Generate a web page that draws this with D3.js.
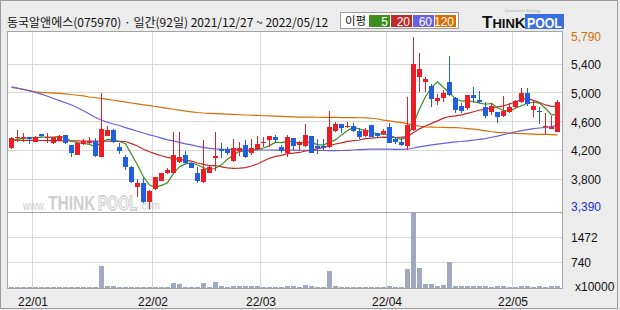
<!DOCTYPE html>
<html>
<head>
<meta charset="utf-8">
<script src="https://cdn.jsdelivr.net/npm/d3@7"></script>
<style>
  body { margin: 0; background: #ececec; }
  text { font-family: "Liberation Sans", Arial, sans-serif; }
  .kr { font-family: "Noto Sans CJK KR", "Noto Sans", sans-serif; }
</style>
</head>
<body>
<svg id="chart" width="620" height="310"></svg>
<script>
// daily candles, 2021/12/27 ~ 2022/05/12 (92 trading days)
const open = [
  4237, 4376, 4385, 4390, 4329, 4436, 4390, 4306, 4343, 4422,
  4283, 4144, 4297, 4306, 4339, 4112, 4413, 4491, 4251, 4112,
  3973, 3704, 3751, 3496, 3667, 3783, 3890, 3890, 4052, 4140,
  4028, 3899, 3769, 3899, 4107, 4223, 4223, 4066, 4200, 4279,
  4177, 4228, 4316, 4353, 4390, 4251, 4177, 4376, 4283, 4274,
  4408, 4269, 4269, 4260, 4482, 4575, 4538, 4547, 4482, 4413,
  4561, 4445, 4436, 4538, 4366, 4329, 4274, 4492, 5233, 5159,
  5103, 4900, 4932, 5159, 4932, 4825, 4793, 4978, 4909, 4807,
  4747, 4747, 4687, 4747, 4807, 4886, 5011, 4770, 4761, 4548,
  4511, 4469];
const high = [
  4399, 4491, 4445, 4390, 4410, 4440, 4445, 4400, 4420, 4425,
  4290, 4310, 4362, 4390, 4376, 5000, 4547, 4505, 4306, 4144,
  3991, 3816, 3820, 3658, 3840, 3900, 3960, 4459, 4459, 4205,
  4030, 3973, 4352, 3990, 4459, 4306, 4260, 4362, 4325, 4352,
  4366, 4408, 4390, 4408, 4422, 4283, 4422, 4376, 4343, 4575,
  4408, 4362, 4362, 4755, 4607, 4575, 4607, 4584, 4515, 4515,
  4561, 4454, 4501, 4593, 4390, 4399, 4954, 5790, 5557, 5224,
  5131, 4992, 5048, 5525, 4946, 4872, 4978, 5094, 5038, 4886,
  4862, 4747, 4964, 4862, 4909, 5071, 5071, 4900, 4807, 4724,
  4687, 4909];
const low = [
  4223, 4329, 4329, 4297, 4320, 4400, 4306, 4300, 4335, 4300,
  4112, 4140, 4283, 4297, 4112, 4112, 4413, 4306, 4158, 3936,
  3751, 3556, 3482, 3390, 3660, 3780, 3885, 3880, 4038, 4020,
  3960, 3751, 3751, 3890, 3927, 4098, 4144, 4052, 4130, 4098,
  4144, 4214, 4260, 4260, 4320, 4177, 4112, 4214, 4204, 4251,
  4168, 4158, 4204, 4246, 4468, 4445, 4515, 4468, 4362, 4399,
  4390, 4376, 4422, 4306, 4297, 4269, 4214, 4480, 5025, 5025,
  4816, 4839, 4886, 4964, 4733, 4733, 4770, 4872, 4872, 4654,
  4700, 4594, 4668, 4733, 4793, 4872, 4826, 4668, 4575, 4423,
  4501, 4460];
const close = [
  4376, 4399, 4395, 4362, 4399, 4413, 4399, 4390, 4408, 4306,
  4177, 4306, 4339, 4339, 4130, 4505, 4491, 4329, 4204, 3982,
  3765, 3751, 3496, 3644, 3834, 3890, 3936, 4140, 4112, 4028,
  3968, 3783, 3950, 3973, 4130, 4204, 4177, 4237, 4241, 4112,
  4237, 4293, 4325, 4408, 4353, 4200, 4390, 4269, 4325, 4422,
  4177, 4246, 4246, 4529, 4575, 4524, 4547, 4482, 4399, 4491,
  4399, 4408, 4482, 4316, 4325, 4283, 4561, 5409, 5339, 5200,
  4918, 4941, 5011, 4978, 4770, 4761, 4978, 4941, 4881, 4687,
  4826, 4677, 4761, 4807, 4900, 5001, 4853, 4826, 4742, 4548,
  4538, 4886];
// volume, x10000 shares
const volume = [
  30, 32, 30, 34, 30, 30, 32, 30, 30, 34,
  36, 32, 30, 34, 36, 634, 45, 45, 40, 34,
  38, 34, 32, 34, 32, 34, 36, 153, 110, 34,
  34, 34, 153, 32, 190, 66, 34, 66, 66, 66,
  66, 45, 32, 32, 32, 32, 66, 45, 34, 88,
  45, 34, 34, 503, 45, 32, 34, 32, 32, 34,
  32, 32, 34, 45, 32, 32, 547, 2208, 590, 110,
  110, 73, 88, 772, 66, 45, 66, 66, 45, 45,
  32, 45, 66, 32, 30, 66, 45, 32, 45, 32,
  45, 45];
// moving averages as drawn
const ma5 = [
  4350, 4365, 4375, 4385, 4386, 4394, 4394, 4393, 4402, 4383,
  4336, 4317, 4307, 4293, 4258, 4324, 4361, 4359, 4332, 4302,
  4154, 4006, 3840, 3728, 3698, 3723, 3760, 3889, 3982, 4021,
  4037, 4006, 3968, 3940, 3961, 4008, 4087, 4144, 4198, 4194,
  4201, 4224, 4242, 4275, 4323, 4316, 4335, 4324, 4307, 4321,
  4317, 4288, 4283, 4324, 4355, 4424, 4484, 4531, 4505, 4489,
  4464, 4436, 4436, 4419, 4386, 4363, 4393, 4579, 4783, 4958,
  5085, 5161, 5082, 5010, 4924, 4892, 4900, 4886, 4866, 4850,
  4863, 4802, 4766, 4752, 4794, 4829, 4864, 4877, 4864, 4794,
  4701, 4708];
const ma20 = [
  4350, 4350, 4349, 4348, 4347, 4346, 4345, 4344, 4343, 4342,
  4341, 4340, 4339, 4338, 4337, 4336, 4336, 4335, 4334, 4332,
  4302, 4270, 4225, 4189, 4160, 4134, 4111, 4099, 4084, 4070,
  4059, 4033, 4014, 3996, 3996, 3981, 3965, 3960, 3962, 3969,
  3992, 4019, 4061, 4099, 4125, 4140, 4163, 4170, 4180, 4200,
  4210, 4233, 4248, 4276, 4298, 4314, 4333, 4345, 4353, 4372,
  4380, 4386, 4394, 4389, 4388, 4392, 4400, 4457, 4508, 4547,
  4584, 4619, 4657, 4679, 4689, 4701, 4723, 4746, 4770, 4779,
  4801, 4814, 4828, 4853, 4881, 4917, 4932, 4903, 4873, 4840,
  4821, 4819];
const ma60 = [
  5090, 5075, 5055, 5035, 5015, 4990, 4960, 4930, 4900, 4870,
  4840, 4800, 4760, 4715, 4665, 4630, 4600, 4575, 4555, 4525,
  4500, 4475, 4450, 4425, 4405, 4380, 4355, 4340, 4320, 4300,
  4285, 4265, 4250, 4238, 4230, 4225, 4222, 4220, 4218, 4216,
  4215, 4215, 4214, 4214, 4213, 4213, 4212, 4212, 4211, 4210,
  4209, 4208, 4207, 4206, 4206, 4207, 4210, 4214, 4219, 4224,
  4225, 4225, 4226, 4226, 4224, 4222, 4225, 4242, 4257, 4272,
  4285, 4295, 4306, 4317, 4328, 4332, 4340, 4350, 4362, 4373,
  4391, 4406, 4427, 4447, 4465, 4483, 4498, 4510, 4520, 4529,
  4539, 4557];
const ma120 = [
  5085, 5070, 5055, 5040, 5022, 5015, 5010, 5005, 5000, 4994,
  4985, 4975, 4965, 4950, 4940, 4930, 4918, 4905, 4893, 4880,
  4867, 4855, 4842, 4830, 4818, 4805, 4793, 4780, 4768, 4755,
  4745, 4735, 4728, 4724, 4720, 4716, 4712, 4708, 4704, 4700,
  4697, 4694, 4690, 4687, 4684, 4680, 4677, 4674, 4672, 4671,
  4670, 4669, 4668, 4667, 4666, 4665, 4665, 4664, 4662, 4660,
  4655, 4645, 4630, 4620, 4605, 4595, 4580, 4560, 4545, 4535,
  4532, 4530, 4528, 4526, 4524, 4520, 4512, 4503, 4493, 4480,
  4468, 4460, 4455, 4450, 4445, 4442, 4438, 4435, 4432, 4430,
  4427, 4425];

const maSeries = [ma5, ma20, ma60, ma120];
const maLabels = ['5', '20', '60', '120'];
const maColors = ['#3e8e1e', '#c22a2a', '#6a5fe0', '#dc6e00'];

const priceTicks = [5400, 5000, 4600, 4200, 3800];
const volTicks = [736, 1472];
const volTickLabels = ['740', '1472'];
const monthIdx = [4, 24, 42, 63, 84];
const monthLabels = ['22/01', '22/02', '22/03', '22/04', '22/05'];
const priceMax = 5790, priceMin = 3390;
const title = '동국알앤에스(075970) · 일간(92일) 2021/12/27 ~ 2022/05/12';

const UP = '#ee1c24', DOWN = '#1f5fe0', VOL = '#a0a8c2', GRID = '#d9d9d9', FRAME = '#a4a4a4';
const pLeft = 7, pRight = 562, pTop = 31, pMid = 212, pBottom = 288;

const svg = d3.select('#chart');

svg.append('rect').attr('width', 620).attr('height', 310).attr('fill', '#ececec');
svg.append('rect')
  .attr('x', 0.5).attr('y', 0.5).attr('width', 617).attr('height', 308)
  .attr('fill', 'none').attr('stroke', '#9c9c9c');

// scales
const xBand = d3.scaleBand()
  .domain(d3.range(close.length))
  .range([8.5, 560.5])
  .paddingInner(1 / 6)
  .paddingOuter(1 / 12);
const xEdge = d3.scaleLinear().domain([0, close.length]).range([8.5, 560.5]);
const xMid = (i) => xBand(i) + xBand.bandwidth() / 2;
const y = d3.scaleLinear().domain([3353, 5867]).range([pMid, pTop]);
const yv = d3.scaleLinear().domain([0, 2208]).range([pBottom, pMid + 1]);
const snap = (v) => Math.round(v) - 0.5;

// panels
svg.append('rect')
  .attr('x', pLeft).attr('y', pTop)
  .attr('width', pRight - pLeft).attr('height', pBottom - pTop)
  .attr('fill', '#fff');

const grid = svg.append('g').attr('stroke', GRID).attr('shape-rendering', 'crispEdges');
grid.selectAll('.hp').data(priceTicks).enter().append('line')
  .attr('x1', pLeft).attr('x2', pRight)
  .attr('y1', (d) => snap(y(d))).attr('y2', (d) => snap(y(d)));
grid.selectAll('.hv').data(volTicks).enter().append('line')
  .attr('x1', pLeft).attr('x2', pRight)
  .attr('y1', (d) => snap(yv(d))).attr('y2', (d) => snap(yv(d)));
grid.selectAll('.v').data(monthIdx).enter().append('line')
  .attr('x1', (d) => xEdge(d)).attr('x2', (d) => xEdge(d))
  .attr('y1', pTop).attr('y2', pBottom);

// watermark (squeezed horizontally like the site's logo type)
const wm = svg.append('g').attr('fill', '#c4c4c4').attr('opacity', 0.8);
wm.append('text').attr('transform', 'translate(23,209.5) scale(0.8,1)').attr('font-size', 12).text('www.');
wm.append('text').attr('transform', 'translate(48,209.5) scale(0.78,1)')
  .attr('font-size', 20).attr('font-weight', 'bold').text('THINK');
wm.append('text').attr('transform', 'translate(98,209.5) scale(0.7,1)')
  .attr('font-size', 20).attr('font-weight', 'bold')
  .attr('fill', '#fff').attr('stroke', '#c4c4c4').attr('stroke-width', 1.3).text('POOL');
wm.append('text').attr('transform', 'translate(139,209.5) scale(0.8,1)').attr('font-size', 12).text('.com');

// moving averages
const line = d3.line().x((d, i) => xMid(i)).y((d) => y(d));
svg.append('g').selectAll('path').data(maSeries.slice().reverse()).enter().append('path')
  .attr('d', line)
  .attr('fill', 'none')
  .attr('stroke', (d, i) => maColors[maColors.length - 1 - i])
  .attr('stroke-width', 1.2);

// candles
const candles = svg.append('g').attr('shape-rendering', 'crispEdges');
const days = d3.range(close.length);
const col = (i) => (close[i] >= open[i] ? UP : DOWN);
candles.selectAll('line').data(days).enter().append('line')
  .attr('x1', xMid).attr('x2', xMid)
  .attr('y1', (i) => y(high[i])).attr('y2', (i) => y(low[i]))
  .attr('stroke', col);
candles.selectAll('rect').data(days).enter().append('rect')
  .attr('x', (i) => xBand(i))
  .attr('width', xBand.bandwidth())
  .attr('y', (i) => y(Math.max(open[i], close[i])))
  .attr('height', (i) => Math.max(1, Math.abs(y(open[i]) - y(close[i]))))
  .attr('fill', col);

// volume
svg.append('g').attr('shape-rendering', 'crispEdges')
  .selectAll('rect').data(volume).enter().append('rect')
  .attr('x', (d, i) => xBand(i))
  .attr('width', xBand.bandwidth())
  .attr('y', (d) => yv(d))
  .attr('height', (d) => pBottom - yv(d))
  .attr('fill', VOL);

// frame
const frame = svg.append('g').attr('stroke', FRAME).attr('fill', 'none').attr('shape-rendering', 'crispEdges');
frame.append('rect').attr('x', pLeft + 0.5).attr('y', pTop + 0.5)
  .attr('width', pRight - pLeft).attr('height', pBottom - pTop);
frame.append('line').attr('x1', pLeft).attr('x2', pRight + 1).attr('y1', pMid + 0.5).attr('y2', pMid + 0.5);

// right price axis
const yAxis = d3.axisRight(y).tickValues(priceTicks).tickFormat(d3.format(',')).tickSize(0).tickPadding(9);
svg.append('g').attr('transform', `translate(${pRight},0)`).call(yAxis)
  .call((g) => g.select('.domain').remove())
  .call((g) => g.selectAll('text').attr('font-size', 12).attr('fill', '#111')
    .attr('font-family', '"Liberation Sans", Arial, sans-serif'));
svg.append('text').attr('x', 571).attr('y', y(priceMax)).attr('dy', '0.36em')
  .attr('font-size', 12).attr('fill', '#d4700a').text(d3.format(',')(priceMax));
svg.append('text').attr('x', 571).attr('y', Math.min(y(priceMin), 207)).attr('dy', '0.36em')
  .attr('font-size', 12).attr('fill', '#1c2fd6').text(d3.format(',')(priceMin));

// right volume axis
const vAxis = d3.axisRight(yv).tickValues(volTicks).tickFormat((d, i) => volTickLabels[i]).tickSize(0).tickPadding(9);
svg.append('g').attr('transform', `translate(${pRight},0)`).call(vAxis)
  .call((g) => g.select('.domain').remove())
  .call((g) => g.selectAll('text').attr('font-size', 12).attr('fill', '#111')
    .attr('font-family', '"Liberation Sans", Arial, sans-serif'));
svg.append('text').attr('x', 575).attr('y', 291).attr('font-size', 12).attr('fill', '#111').text('x10000');

// bottom month axis
const xAxis = d3.axisBottom(xEdge).tickValues(monthIdx).tickFormat((d, i) => monthLabels[i]).tickSize(0).tickPadding(9);
svg.append('g').attr('transform', `translate(0,${pBottom})`).call(xAxis)
  .call((g) => g.select('.domain').remove())
  .call((g) => g.selectAll('text').attr('font-size', 12).attr('fill', '#111')
    .attr('font-family', '"Liberation Sans", Arial, sans-serif'));

// title
svg.append('text').attr('class', 'kr').attr('x', 7).attr('y', 26.5)
  .attr('font-size', 12).attr('fill', '#111')
  .text(title);

// legend
const lg = svg.append('g');
lg.append('rect').attr('x', 340.5).attr('y', 12.5).attr('width', 118).attr('height', 16)
  .attr('fill', '#fff').attr('stroke', '#9c9c9c');
lg.append('text').attr('class', 'kr').attr('x', 345).attr('y', 25).attr('font-size', 11.5)
  .attr('fill', '#111').text('이평');
const lgItems = lg.selectAll('.item').data(maLabels).enter().append('g')
  .attr('transform', (d, i) => `translate(${369 + i * 22},15)`);
lgItems.append('rect').attr('width', 21).attr('height', 12).attr('fill', (d, i) => maColors[i]);
lgItems.append('text').attr('x', 19).attr('y', 10.5).attr('text-anchor', 'end')
  .attr('font-size', 12).attr('fill', '#fff').text((d) => d);

// logo
const logo = svg.append('g');
logo.append('text').attr('x', 505).attr('y', 12).attr('font-size', 4).attr('fill', '#aaa')
  .text('Investment Strategy');
const lt = logo.append('text').attr('x', 482).attr('y', 28).attr('font-weight', 'bold').attr('fill', '#111');
lt.append('tspan').attr('font-size', 17).text('T');
lt.append('tspan').attr('font-size', 13).text('HIN');
lt.append('tspan').attr('font-size', 15).text('K');
logo.append('rect').attr('x', 525).attr('y', 14).attr('width', 39).attr('height', 15).attr('fill', '#3b6de0');
logo.append('text').attr('transform', 'translate(527,28) scale(0.82,1)')
  .attr('font-size', 15).attr('font-weight', 'bold').attr('fill', '#fff').text('POOL');
</script>
</body>
</html>
